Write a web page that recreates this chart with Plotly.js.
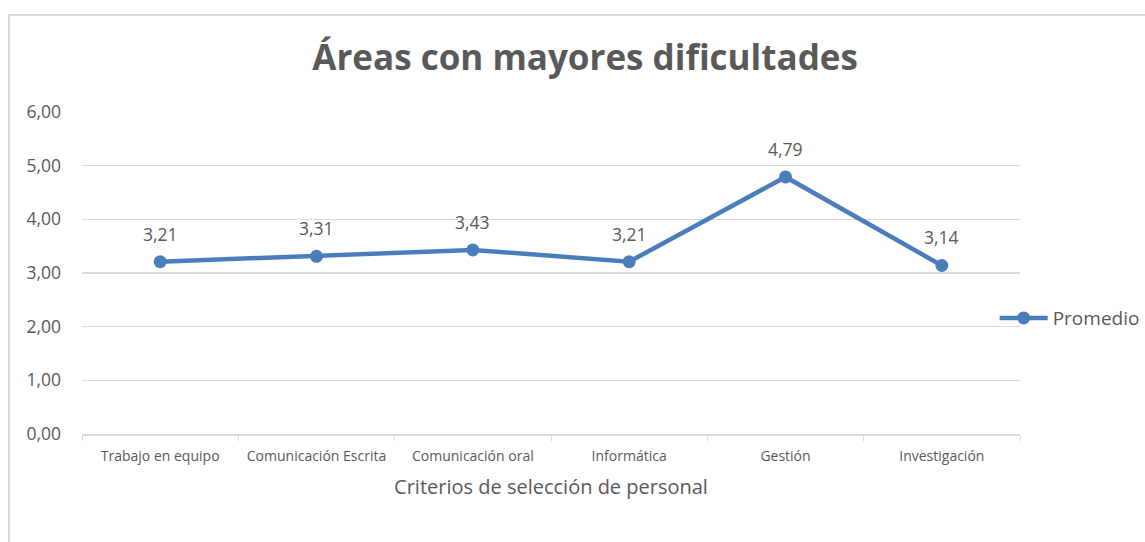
<!DOCTYPE html>
<html><head><meta charset="utf-8">
<script src="https://cdn.plot.ly/plotly-3.0.1.min.js"></script>
<style>
html,body{margin:0;padding:0;background:#fff;overflow:hidden;}
#frame{position:absolute;left:8px;top:14px;width:1200px;height:600px;border:2px solid #d9d9d9;box-sizing:border-box;}
#chart{position:absolute;left:0;top:0;width:1145px;height:542px;}
</style></head>
<body>
<div id="frame"></div>
<div id="chart"></div>
<script>
const categories = ["Trabajo en equipo","Comunicación Escrita","Comunicación oral","Informática","Gestión","Investigación"];
const promedio = [3.21, 3.31, 3.43, 3.21, 4.79, 3.14];
const yTicks = [0,1,2,3,4,5,6];

const fmt = v => v.toFixed(2).replace('.', ',');
const font = "Open Sans, Noto Sans, sans-serif";
const txt = "#595959";

const trace = {
  type: "scatter", mode: "lines+markers", name: "Promedio",
  x: categories, y: promedio,
  line: {color: "#4a7ebb", width: 4.5},
  marker: {color: "#4a7ebb", size: 13}
};

const annotations = categories.map((c, i) => ({
  x: c, y: promedio[i], xref: "x", yref: "y",
  text: fmt(promedio[i]), showarrow: false, yshift: 28,
  font: {family: font, size: 17.5, color: txt}
}));

const layout = {
  width: 1145, height: 542,
  margin: {l: 82, r: 125, t: 112, b: 108, autoexpand: false},
  paper_bgcolor: "rgba(0,0,0,0)", plot_bgcolor: "rgba(0,0,0,0)",
  separators: ",.",
  title: {text: "<b>Áreas con mayores dificultades</b>", xref: "container", x: 0.511, xanchor: "center",
          yref: "container", y: 0.893, yanchor: "middle",
          font: {family: font, size: 35, color: txt}},
  xaxis: {type: "category", range: [-0.5, 5.5], showline: true, linecolor: "#d9d9d9", linewidth: 2,
          tickson: "boundaries", ticks: "outside", ticklen: 5, tickcolor: "#d9d9d9", tickwidth: 1,
          showgrid: false, tickfont: {family: font, size: 14, color: txt}, ticklabelstandoff: 8,
          title: {text: "Criterios de selección de personal", standoff: 16, font: {family: font, size: 20, color: txt}}},
  yaxis: {range: [0, 6], tickvals: yTicks, ticktext: yTicks.map(fmt), showgrid: true, gridcolor: "#d9d9d9",
          gridwidth: 1.5, zeroline: false, showline: false, ticks: "", ticklabelstandoff: 20,
          tickfont: {family: font, size: 17.5, color: txt}},
  showlegend: true,
  legend: {x: 0.973, xanchor: "left", y: 0.36, yanchor: "middle", itemwidth: 48,
           font: {family: font, size: 19, color: txt}, bgcolor: "rgba(0,0,0,0)"},
  annotations: annotations
};

Plotly.newPlot("chart", [trace], layout, {displayModeBar: false, staticPlot: true});
</script>
</body></html>
